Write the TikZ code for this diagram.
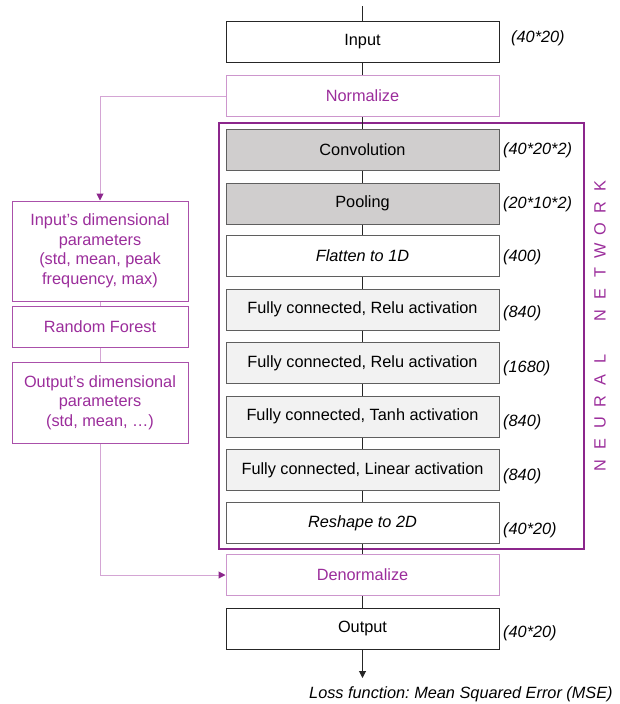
\documentclass[tikz,border=0pt]{standalone}
\usepackage{fontspec}
\setmainfont{Liberation Sans}
\usepackage{tikz}
\usetikzlibrary{arrows.meta, positioning}
\definecolor{nnpurple}{RGB}{140,38,140}
\definecolor{txtpurple}{RGB}{155,45,155}
\definecolor{sidepurple}{RGB}{170,80,170}
\definecolor{lightpurple}{RGB}{205,150,205}
\definecolor{linkpurple}{RGB}{212,165,212}
\definecolor{boxgray}{RGB}{95,95,95}
\definecolor{convfill}{RGB}{208,206,206}
\definecolor{densefill}{RGB}{242,242,242}
\frenchspacing

\begin{document}
\begin{tikzpicture}[x=1pt, y=-1pt,
    >={Triangle[width=7pt, length=7pt]},
    layer/.style={draw=boxgray, line width=1pt, minimum width=273pt, minimum height=41pt, inner sep=0pt, font=\fontsize{16.3}{19.5}\selectfont},
    convlayer/.style={layer, fill=convfill},
    denselayer/.style={layer, fill=densefill},
    iolayer/.style={layer, draw=black!85},
    normlayer/.style={layer, draw=lightpurple, text=txtpurple},
    sidebox/.style={draw=sidepurple, line width=1pt, minimum width=176pt, inner sep=0pt, align=center, text=txtpurple, font=\fontsize{16.3}{19.5}\selectfont},
    dimlbl/.style={anchor=west, inner sep=0pt, font=\fontsize{16.3}{19.5}\selectfont\itshape},
    nnletter/.style={rotate=90, inner sep=0pt, text=txtpurple, font=\fontsize{16.3}{19.5}\selectfont},
    link/.style={draw=black!85, line width=1pt},
    plink/.style={draw=linkpurple, line width=1pt}]
    \useasboundingbox (0,0) rectangle (619,704);

    % Neural network frame
    \node[draw=nnpurple, line width=2.4pt, minimum width=365pt, minimum height=426pt, inner sep=0pt] (nn) at (401.5,336) {};
    \foreach \ch [count=\i from 0] in {N,E,U,R,A,L,{ },N,E,T,W,O,R,K} {
      \node[nnletter] (nn-\i) at (600, 466-\i*21.5) {\ch};
    }

    % Main column
    \coordinate (top) at (362.5,6);
    \node[iolayer] (input) at (362.5,42) {Input};
    \node[normlayer] (norm) at (362.5,96) {Normalize};
    \node[convlayer] (conv) at (362.5,150) {Convolution};
    \node[convlayer] (pool) at (362.5,203.5) {Pooling};
    \node[layer] (flat) at (362.5,256) {\itshape Flatten to 1D};
    \node[denselayer] (fc1) at (362.5,309.5) {Fully connected, Relu activation};
    \node[denselayer] (fc2) at (362.5,363) {Fully connected, Relu activation};
    \node[denselayer] (fc3) at (362.5,416.5) {Fully connected, Tanh activation};
    \node[denselayer] (fc4) at (362.5,470) {Fully connected, Linear activation};
    \node[layer] (reshape) at (362.5,523) {\itshape Reshape to 2D};
    \node[normlayer] (denorm) at (362.5,575) {Denormalize};
    \node[iolayer] (output) at (362.5,628.5) {Output};
    \coordinate (bottom) at (362.5,678);

    % Sizes
    \node[dimlbl] (d-input) at (511,38) {(40*20)};
    \node[dimlbl] (d-conv) at (503,150) {(40*20*2)};
    \node[dimlbl] (d-pool) at (503,204) {(20*10*2)};
    \node[dimlbl] (d-flat) at (503,257) {(400)};
    \node[dimlbl] (d-fc1) at (503,313) {(840)};
    \node[dimlbl] (d-fc2) at (503,368) {(1680)};
    \node[dimlbl] (d-fc3) at (503,422) {(840)};
    \node[dimlbl] (d-fc4) at (503,476) {(840)};
    \node[dimlbl] (d-reshape) at (503,530) {(40*20)};
    \node[dimlbl] (d-output) at (503,633) {(40*20)};
    \node[dimlbl] (loss) at (309,694) {Loss function: Mean Squared Error (MSE)};

    % Chain
    \draw[link] (top) -- (input);
    \foreach \a/\b in {input/norm, norm/conv, conv/pool, pool/flat, flat/fc1, fc1/fc2, fc2/fc3, fc3/fc4, fc4/reshape, reshape/denorm, denorm/output} {
      \draw[link] (\a) -- (\b);
    }
    \draw[link, ->] (output) -- (bottom);

    % Side branch
    \node[sidebox, minimum height=100pt] (inpar) at (100,251) {Input’s dimensional\\parameters\\(std, mean, peak\\frequency, max)};
    \node[sidebox, minimum height=41pt] (forest) at (100,326.5) {Random Forest};
    \node[sidebox, minimum height=81pt] (outpar) at (100,402.5) {Output’s dimensional\\parameters\\(std, mean, …)};
    \draw[plink] (inpar) -- (forest);
    \draw[plink] (forest) -- (outpar);
    \draw[plink, -{Triangle[width=7pt, length=7pt, color=nnpurple]}] (norm.west) -| (inpar.north);
    \draw[plink, -{Triangle[width=7pt, length=7pt, color=nnpurple]}] (outpar.south) |- (denorm.west);
\end{tikzpicture}
\end{document}
